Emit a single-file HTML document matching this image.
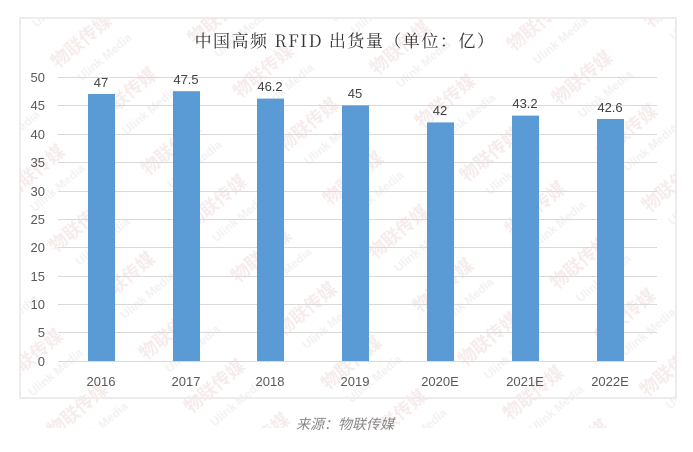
<!DOCTYPE html>
<html><head><meta charset="utf-8"><style>
body{margin:0;background:#fff;width:693px;height:447px;overflow:hidden;font-family:"Liberation Sans","Noto Sans CJK SC",sans-serif}
</style></head><body>
<svg width="693" height="447" xmlns="http://www.w3.org/2000/svg">
<defs>
<pattern id="wm" width="120" height="70" patternUnits="userSpaceOnUse" patternTransform="rotate(-40)">
<text x="0" y="20" font-family="Noto Sans CJK SC,sans-serif" font-size="18" font-weight="bold" fill="#f5eaea">物联传媒</text>
<text x="10" y="45" font-family="Liberation Sans,sans-serif" font-size="12" font-weight="bold" fill="#f0f0f0">Ulink Media</text>
</pattern>
</defs>
<rect x="20" y="18" width="656" height="380" fill="#fff" stroke="#d9d9d9"/>
<rect x="20" y="18" width="656" height="410" fill="url(#wm)" opacity="0.9"/>
<text x="345" y="47" text-anchor="middle" font-family="Noto Serif CJK SC,serif" font-size="17" letter-spacing="1.5" fill="#333">中国高频 RFID 出货量（单位：亿）</text>
<g stroke="#d9d9d9" stroke-width="1">
<line x1="58" x2="657" y1="77.5" y2="77.5"/><line x1="58" x2="657" y1="105.5" y2="105.5"/><line x1="58" x2="657" y1="134.5" y2="134.5"/><line x1="58" x2="657" y1="162.5" y2="162.5"/><line x1="58" x2="657" y1="191.5" y2="191.5"/><line x1="58" x2="657" y1="219.5" y2="219.5"/><line x1="58" x2="657" y1="247.5" y2="247.5"/><line x1="58" x2="657" y1="276.5" y2="276.5"/><line x1="58" x2="657" y1="304.5" y2="304.5"/><line x1="58" x2="657" y1="332.5" y2="332.5"/><line x1="58" x2="657" y1="361.5" y2="361.5"/>
</g>
<g font-size="13" fill="#595959" text-anchor="end">
<text x="45" y="82">50</text><text x="45" y="110">45</text><text x="45" y="139">40</text><text x="45" y="167">35</text><text x="45" y="196">30</text><text x="45" y="224">25</text><text x="45" y="252">20</text><text x="45" y="281">15</text><text x="45" y="309">10</text><text x="45" y="337">5</text><text x="45" y="366">0</text>
</g>
<g fill="#5b9bd5">
<rect x="88" y="94" width="27" height="267"/>
<rect x="173" y="91.2" width="27" height="269.8"/>
<rect x="257" y="98.6" width="27" height="262.4"/>
<rect x="342" y="105.4" width="27" height="255.6"/>
<rect x="427" y="122.4" width="27" height="238.6"/>
<rect x="512" y="115.6" width="27" height="245.4"/>
<rect x="597" y="119" width="27" height="242"/>
</g>
<g font-size="13" fill="#404040" text-anchor="middle">
<text x="101" y="87">47</text><text x="186" y="84">47.5</text><text x="270" y="91">46.2</text><text x="355" y="98">45</text><text x="440" y="115">42</text><text x="525" y="108">43.2</text><text x="610" y="112">42.6</text>
</g>
<g font-size="13" fill="#595959" text-anchor="middle">
<text x="101" y="386">2016</text><text x="186" y="386">2017</text><text x="270" y="386">2018</text><text x="355" y="386">2019</text><text x="440" y="386">2020E</text><text x="525" y="386">2021E</text><text x="610" y="386">2022E</text>
</g>
<text x="345" y="429" text-anchor="middle" font-size="14" font-style="italic" fill="#888">来源：物联传媒</text>
</svg>
</body></html>
